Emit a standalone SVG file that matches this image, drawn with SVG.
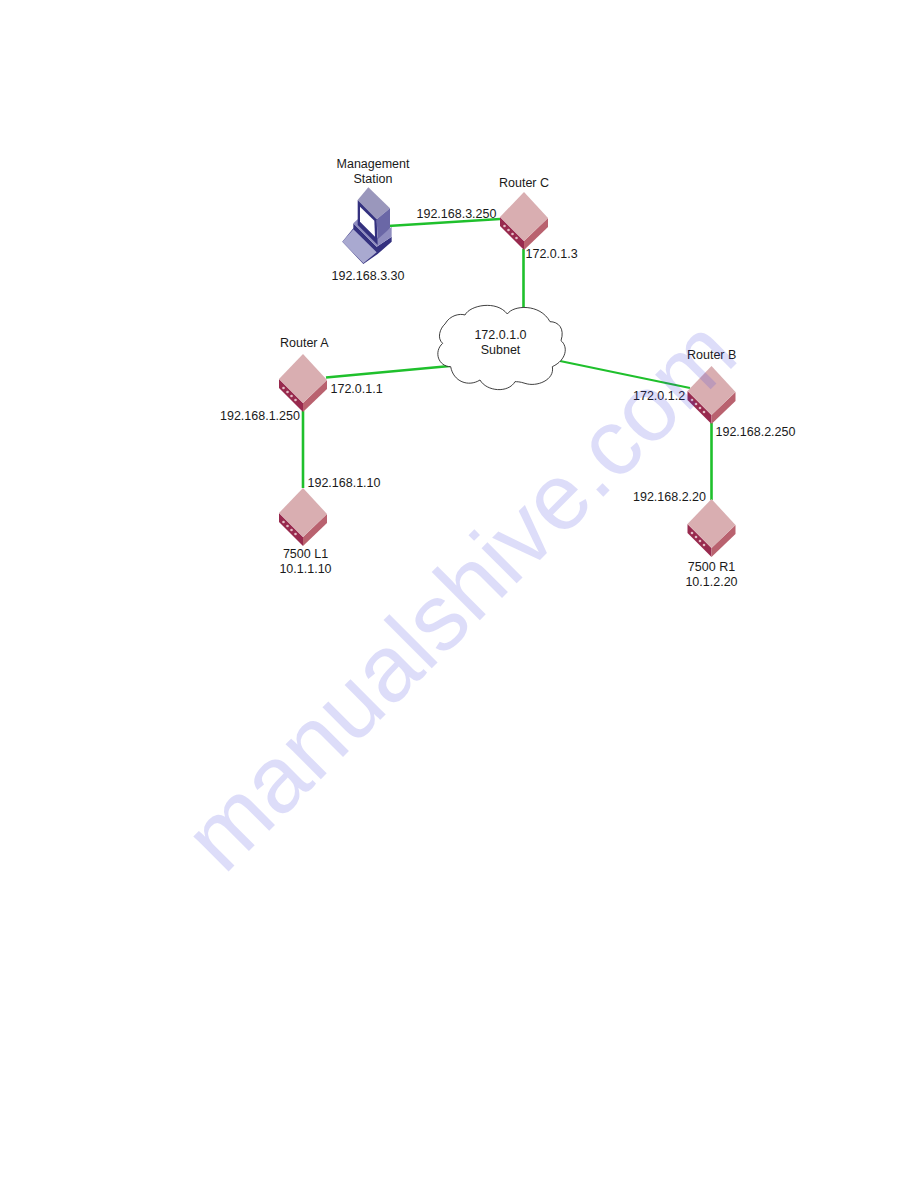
<svg xmlns="http://www.w3.org/2000/svg" width="918" height="1188" viewBox="0 0 918 1188">
<style>
text{font-family:"Liberation Sans",Arial,sans-serif;font-size:12.5px;fill:#1a1a1a}
.m{text-anchor:middle}
.link{fill:none;stroke:#1fc02c;stroke-width:2.6}
.top{fill:#d9aeb1}.lft{fill:#982a4e}.rgt{fill:#b9626f}.led{fill:#e3bcc6}
.wm{font-size:94px;fill:#3a3ae0;opacity:.17}
</style>
<defs>
<g id="router">
<polygon class="lft" points="-24,25 0,49 0,58 -24,34"/>
<polygon class="rgt" points="24,26 0,49 0,58 24,35"/>
<polygon class="top" points="0,0 24,26 0,49 -24,25"/>
<g class="led"><circle cx="-19.5" cy="34" r="1.3"/><circle cx="-15.5" cy="38" r="1.3"/><circle cx="-11.5" cy="42" r="1.3"/><circle cx="-7.5" cy="46" r="1.3"/></g>
</g>
</defs>
<rect width="918" height="1188" fill="#fff"/>
<g id="connectors">
<path class="link" d="M388 226 L500 219"/>
<path class="link" d="M523.5 249 V307"/>
<path class="link" d="M326 377.5 L450 366"/>
<path class="link" d="M560 361 L690 388" style="stroke-width:2.2"/>
<path class="link" d="M303 411 V488"/>
<path class="link" d="M711.5 423 V500"/>
</g>
<g id="cloud">
<path transform="translate(430 300) scale(.33333)" fill="#fff" stroke="#222" stroke-width="2.6" d="M45 72 C60 45 90 40 105 45 C120 15 200 0 232 42 C250 15 330 10 360 65 C385 65 405 85 393 122 C415 140 410 180 367 200 C375 240 320 262 285 250 C270 245 260 245 255 245 C235 280 170 275 150 240 C115 262 70 245 62 200 C25 200 10 155 38 130 C20 115 30 85 45 72 Z"/>
<text class="m" x="500.5" y="339">172.0.1.0</text>
<text class="m" x="500.5" y="354">Subnet</text>
</g>
<g id="management-station">
<g transform="translate(335 180) scale(.33333)">
<polygon fill="#34317f" points="22,185 55,145 55,130 125,200 170,170 170,185 128,222 85,252"/>
<polygon fill="#a9a9d0" points="22,185 55,148 125,217 85,250"/>
<polygon fill="#8f8dbf" points="55,130 68,118 125,175 170,140 170,170 125,200"/>
<polygon fill="#9a97bc" points="68,60 100,22 165,85 125,118"/>
<polygon fill="#6a67a6" points="125,118 165,85 165,145 128,178"/>
<polygon fill="#34317f" points="68,60 125,118 128,195 68,135"/>
<polygon fill="#fff" points="75,80 118,122 120,170 75,125"/>
</g>
<text class="m" x="373" y="168">Management</text>
<text class="m" x="373" y="183">Station</text>
<text x="331.5" y="280">192.168.3.30</text>
</g>
<g id="router-c">
<use href="#router" x="524" y="192"/>
<text x="499" y="187">Router C</text>
<text x="416.5" y="218">192.168.3.250</text>
<text x="525.5" y="258">172.0.1.3</text>
</g>
<g id="router-a">
<use href="#router" x="303" y="354"/>
<text x="280" y="347">Router A</text>
<text x="330.5" y="393">172.0.1.1</text>
<text x="220" y="420">192.168.1.250</text>
</g>
<g id="l1">
<use href="#router" x="303" y="488"/>
<text x="307.5" y="487">192.168.1.10</text>
<text class="m" x="305.5" y="558">7500 L1</text>
<text class="m" x="305.5" y="573">10.1.1.10</text>
</g>
<g id="router-b">
<use href="#router" x="711.5" y="366"/>
<text x="687" y="359">Router B</text>
<text x="633" y="400">172.0.1.2</text>
<text x="715.5" y="436">192.168.2.250</text>
</g>
<g id="r1">
<use href="#router" x="711.5" y="499"/>
<text x="633" y="501">192.168.2.20</text>
<text class="m" x="711.5" y="570.5">7500 R1</text>
<text class="m" x="711.5" y="585.5">10.1.2.20</text>
</g>
<text class="wm" transform="translate(224 876) rotate(-45)">manualshive.com</text>
</svg>
